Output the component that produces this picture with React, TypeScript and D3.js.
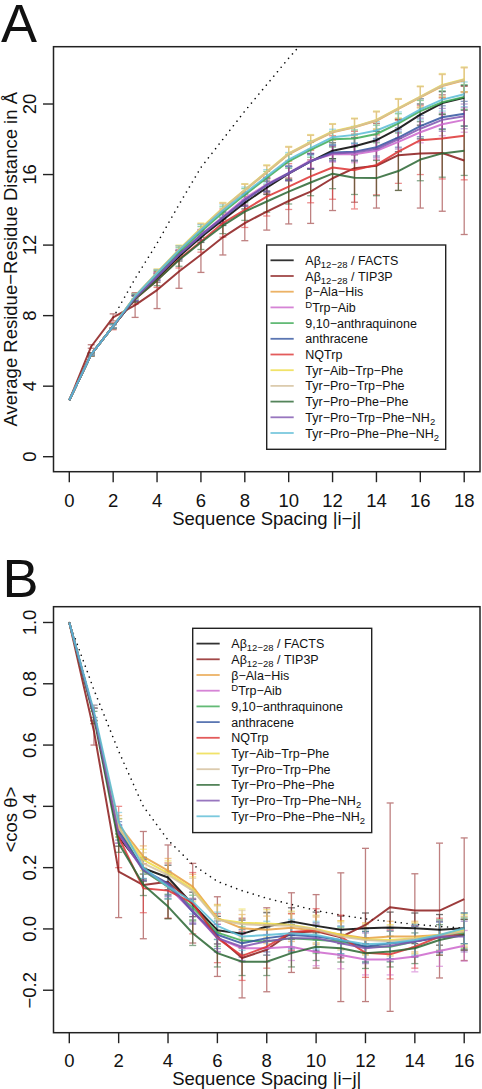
import React from "react";
import * as d3 from "d3";

// ---------- shared series info ----------
const seriesNames = [
  "FACTS", "TIP3P", "bAlaHis", "DTrpAib", "anthraquinone", "anthracene",
  "NQTrp", "TyrAibTrpPhe", "TyrProTrpPhe", "TyrProPhePhe", "TyrProTrpPheNH2", "TyrProPhePheNH2",
];
const seriesColors = [
  "#000000", "#8B1A1A", "#E8A040", "#CC66CC", "#3DAA55", "#3355A0",
  "#DD3333", "#EEDD44", "#D4BF9A", "#2A6632", "#7F55B0", "#5BBCD6",
];

// ---------- Panel A ----------
const xA = [0, 1, 2, 3, 4, 5, 6, 7, 8, 9, 10, 11, 12, 13, 14, 15, 16, 17, 18];
const yTicksA = [0, 4, 8, 12, 16, 20];
const xTicksA = [0, 2, 4, 6, 8, 10, 12, 14, 16, 18];

const a_FACTS = [3.2, 5.8, 7.4, 8.95, 10.1, 11.35, 12.45, 13.43, 14.4, 15.25, 16.05, 16.75, 17.35, 17.6, 17.95, 18.6, 19.4, 20.05, 20.35];
const a_TIP3P = [3.2, 6.25, 7.9, 8.6, 9.45, 10.5, 11.45, 12.44, 13.25, 13.9, 14.5, 15.03, 15.79, 16.36, 16.5, 17.1, 17.2, 17.22, 16.8];
const a_bAlaHis = [3.2, 5.8, 7.4, 9.1, 10.4, 11.7, 12.9, 14.05, 15.1, 16.12, 17.15, 17.8, 18.4, 18.68, 19.05, 19.72, 20.38, 21.02, 21.35];
const a_DTrpAib = [3.2, 5.8, 7.4, 9.0, 10.25, 11.5, 12.6, 13.6, 14.65, 15.45, 16.1, 16.8, 17.15, 17.15, 17.35, 17.85, 18.4, 18.85, 19.1];
const a_anthraquinone = [3.2, 5.8, 7.4, 9.05, 10.35, 11.6, 12.75, 13.85, 14.85, 15.8, 16.75, 17.4, 18.0, 18.05, 18.3, 18.9, 19.6, 20.1, 20.4];
const a_anthracene = [3.2, 5.8, 7.4, 9.0, 10.2, 11.45, 12.55, 13.55, 14.55, 15.4, 16.08, 16.75, 17.25, 17.3, 17.55, 18.1, 18.75, 19.25, 19.45];
const a_NQTrp = [3.2, 5.8, 7.4, 8.95, 10.0, 11.2, 12.2, 13.25, 14.0, 14.75, 15.32, 15.9, 16.4, 16.25, 16.55, 17.3, 17.95, 18.05, 18.2];
const a_TyrAibTrpPhe = [3.2, 5.8, 7.4, 9.1, 10.45, 11.75, 12.95, 14.1, 15.13, 16.17, 17.2, 17.85, 18.44, 18.72, 19.1, 19.76, 20.42, 21.08, 21.4];
const a_TyrProTrpPhe = [3.2, 5.8, 7.4, 9.1, 10.43, 11.72, 12.92, 14.08, 15.12, 16.15, 17.18, 17.82, 18.42, 18.7, 19.08, 19.74, 20.4, 21.05, 21.38];
const a_TyrProPhePhe = [3.2, 5.8, 7.4, 8.95, 10.0, 11.15, 12.15, 13.1, 13.9, 14.47, 15.03, 15.55, 16.05, 15.82, 15.8, 16.2, 16.85, 17.2, 17.35];
const a_TyrProTrpPheNH2 = [3.2, 5.8, 7.4, 9.0, 10.2, 11.45, 12.55, 13.55, 14.55, 15.4, 16.05, 16.75, 17.2, 17.25, 17.45, 18.0, 18.6, 19.1, 19.3];
const a_TyrProPhePheNH2 = [3.2, 5.8, 7.4, 9.1, 10.4, 11.7, 12.86, 13.96, 14.94, 15.9, 16.85, 17.5, 18.12, 18.25, 18.5, 19.0, 19.7, 20.25, 20.55];

const errA_typical = [0, 0.05, 0.1, 0.15, 0.2, 0.25, 0.3, 0.32, 0.35, 0.38, 0.4, 0.42, 0.45, 0.48, 0.5, 0.55, 0.6, 0.65, 0.7];
const errA_TIP3P = [0, 0.1, 0.2, 0.7, 1.05, 0.95, 1.0, 1.0, 1.0, 1.05, 1.3, 1.8, 1.83, 1.93, 2.4, 2.0, 3.1, 3.3, 4.2];
const errA_NQTrp = [0, 0.1, 0.2, 0.3, 0.4, 0.5, 0.6, 0.8, 1.0, 1.1, 1.3, 1.5, 1.8, 2.2, 1.7, 1.8, 1.95, 2.3, 2.5];
const errA_TyrProPhePhe = [0, 0.1, 0.15, 0.2, 0.3, 0.35, 0.4, 0.45, 0.5, 0.6, 0.7, 0.75, 0.85, 0.95, 1.0, 1.1, 1.2, 1.35, 1.4];

const dottedA_x = [2, 3, 4, 5, 6, 7, 8, 9, 10, 11];
const dottedA_y = [7.9, 10.1, 12.1, 14.3, 16.4, 18.0, 19.6, 21.1, 22.6, 24.0];

// ---------- Panel B ----------
const xB = [0, 1, 2, 3, 4, 5, 6, 7, 8, 9, 10, 11, 12, 13, 14, 15, 16];
const yTicksB = [-0.2, 0, 0.2, 0.4, 0.6, 0.8, 1.0];
const xTicksB = [0, 2, 4, 6, 8, 10, 12, 14, 16];

const b_FACTS = [1.0, 0.70, 0.30, 0.198, 0.168, 0.08, -0.004, -0.016, 0.008, 0.024, 0.010, -0.003, 0.002, 0.005, 0.002, -0.003, 0.002];
const b_TIP3P = [1.0, 0.645, 0.187, 0.143, 0.154, 0.084, -0.025, -0.095, -0.068, -0.012, -0.008, -0.027, 0.013, 0.071, 0.060, 0.060, 0.097];
const b_bAlaHis = [1.0, 0.70, 0.34, 0.236, 0.19, 0.138, 0.035, 0.002, -0.003, 0.004, -0.006, -0.018, -0.03, -0.025, -0.025, -0.02, -0.01];
const b_DTrpAib = [1.0, 0.70, 0.31, 0.19, 0.138, 0.056, -0.03, -0.063, -0.063, -0.058, -0.075, -0.085, -0.1, -0.1, -0.09, -0.072, -0.055];
const b_anthraquinone = [1.0, 0.70, 0.33, 0.19, 0.138, 0.07, -0.012, -0.038, -0.041, -0.03, -0.035, -0.041, -0.058, -0.058, -0.041, -0.025, -0.014];
const b_anthracene = [1.0, 0.70, 0.32, 0.193, 0.149, 0.056, -0.019, -0.047, -0.03, -0.02, -0.025, -0.036, -0.058, -0.047, -0.041, -0.028, -0.019];
const b_NQTrp = [1.0, 0.70, 0.30, 0.133, 0.125, 0.084, -0.03, -0.088, -0.058, -0.01, -0.004, -0.025, -0.078, -0.083, -0.058, -0.025, -0.019];
const b_TyrAibTrpPhe = [1.0, 0.70, 0.33, 0.225, 0.182, 0.13, 0.032, 0.02, 0.018, 0.013, 0.0, -0.02, -0.034, -0.036, -0.03, -0.02, -0.003];
const b_TyrProTrpPhe = [1.0, 0.70, 0.33, 0.214, 0.176, 0.125, 0.03, 0.015, 0.012, 0.01, -0.002, -0.025, -0.036, -0.04, -0.032, -0.022, -0.008];
const b_TyrProPhePhe = [1.0, 0.69, 0.28, 0.144, 0.073, -0.014, -0.079, -0.107, -0.107, -0.079, -0.058, -0.063, -0.079, -0.074, -0.063, -0.036, -0.019];
const b_TyrProTrpPheNH2 = [1.0, 0.70, 0.31, 0.193, 0.145, 0.06, -0.03, -0.058, -0.04, -0.03, -0.03, -0.047, -0.063, -0.056, -0.041, -0.025, -0.025];
const b_TyrProPhePheNH2 = [1.0, 0.71, 0.35, 0.20, 0.138, 0.089, 0.01, -0.025, -0.02, -0.014, -0.02, -0.036, -0.05, -0.047, -0.036, -0.02, 0.002];

const errB_typical = [0, 0.02, 0.03, 0.035, 0.04, 0.04, 0.045, 0.045, 0.045, 0.045, 0.045, 0.045, 0.05, 0.05, 0.05, 0.05, 0.05];
const errB_TIP3P = [0, 0.045, 0.15, 0.175, 0.12, 0.13, 0.13, 0.13, 0.137, 0.13, 0.12, 0.21, 0.25, 0.34, 0.12, 0.22, 0.2];
const errB_NQTrp = [0, 0.03, 0.1, 0.08, 0.09, 0.1, 0.08, 0.08, 0.07, 0.06, 0.07, 0.07, 0.08, 0.08, 0.07, 0.06, 0.05];

const dottedB_x = [0, 1, 2, 3, 4, 5, 6, 7, 8, 9, 10, 11, 12, 13, 14, 15, 16];
const dottedB_y = [1.0, 0.78, 0.58, 0.40, 0.29, 0.21, 0.155, 0.125, 0.10, 0.08, 0.06, 0.045, 0.033, 0.024, 0.015, 0.008, 0.003];

const seriesA = [a_FACTS, a_TIP3P, a_bAlaHis, a_DTrpAib, a_anthraquinone, a_anthracene, a_NQTrp, a_TyrAibTrpPhe, a_TyrProTrpPhe, a_TyrProPhePhe, a_TyrProTrpPheNH2, a_TyrProPhePheNH2];
const errsA = [errA_typical, errA_TIP3P, errA_typical, errA_typical, errA_typical, errA_typical, errA_NQTrp, errA_typical, errA_typical, errA_TyrProPhePhe, errA_typical, errA_typical];
const seriesB = [b_FACTS, b_TIP3P, b_bAlaHis, b_DTrpAib, b_anthraquinone, b_anthracene, b_NQTrp, b_TyrAibTrpPhe, b_TyrProTrpPhe, b_TyrProPhePhe, b_TyrProTrpPheNH2, b_TyrProPhePheNH2];
const errsB = [errB_typical, errB_TIP3P, errB_typical, errB_typical, errB_typical, errB_typical, errB_NQTrp, errB_typical, errB_typical, errB_typical, errB_typical, errB_typical];

const FONT = "'Liberation Sans', Arial, Helvetica, sans-serif";
const AX = "#222";

function LegendLabel({ i }: { i: number }) {
  const sub = { fontSize: 9.5 } as any;
  switch (i) {
    case 0:
      return (<>Aβ<tspan dy={3} style={sub}>12−28</tspan><tspan dy={-3}> / FACTS</tspan></>);
    case 1:
      return (<>Aβ<tspan dy={3} style={sub}>12−28</tspan><tspan dy={-3}> / TIP3P</tspan></>);
    case 2: return <>β−Ala−His</>;
    case 3:
      return (<><tspan dy={-4} style={sub}>D</tspan><tspan dy={4}>Trp−Aib</tspan></>);
    case 4: return <>9,10−anthraquinone</>;
    case 5: return <>anthracene</>;
    case 6: return <>NQTrp</>;
    case 7: return <>Tyr−Aib−Trp−Phe</>;
    case 8: return <>Tyr−Pro−Trp−Phe</>;
    case 9: return <>Tyr−Pro−Phe−Phe</>;
    case 10:
      return (<>Tyr−Pro−Trp−Phe−NH<tspan dy={3} style={sub}>2</tspan></>);
    default:
      return (<>Tyr−Pro−Phe−Phe−NH<tspan dy={3} style={sub}>2</tspan></>);
  }
}

function Legend({ x0, y0 }: { x0: number; y0: number }) {
  const w = 179, h = 204.3, step = 15.7;
  return (
    <g>
      <rect x={x0} y={y0} width={w} height={h} fill="white" stroke={AX} strokeWidth={1.4} />
      {seriesNames.map((n, i) => {
        const yy = y0 + 15.3 + i * step;
        return (
          <g key={n}>
            <line x1={x0 + 3.8} x2={x0 + 27} y1={yy} y2={yy} stroke={seriesColors[i]} strokeWidth={1.8} opacity={0.8} />
            <text x={x0 + 38.6} y={yy + 4.5} fontSize={12.5} fill="#111" fontFamily={FONT}>
              <LegendLabel i={i} />
            </text>
          </g>
        );
      })}
    </g>
  );
}

function Panel(props: {
  left: number; right: number; top: number; bottom: number;
  xDom: [number, number]; yDom: [number, number];
  xs: number[]; series: number[][]; errs: number[][];
  xTicks: number[]; yTicks: number[]; yFmt: (v: number) => string;
  dotX: number[]; dotY: number[];
  yLabel: string; letter: string; letterY: number; letterX: number;
  tickLabelY: number; titleY: number; legendX: number; legendY: number; clipId: string;
}) {
  const p = props;
  const x = d3.scaleLinear().domain(p.xDom).range([p.left, p.right]);
  const y = d3.scaleLinear().domain(p.yDom).range([p.bottom, p.top]);
  const line = d3.line<number>().x((_, i) => x(p.xs[i])).y((d) => y(d));
  const dline = d3.line<number>().x((_, i) => x(p.dotX[i])).y((d) => y(d));
  const cy = (p.top + p.bottom) / 2;
  const cx = (p.left + p.right) / 2;
  return (
    <g fontFamily={FONT}>
      <defs>
        <clipPath id={p.clipId}>
          <rect x={p.left} y={p.top} width={p.right - p.left} height={p.bottom - p.top} />
        </clipPath>
      </defs>
      <text x={p.letterX} y={p.letterY} fontSize={54} fill="#111">{p.letter}</text>
      <g clipPath={`url(#${p.clipId})`}>
        <path d={dline(p.dotY) || ""} fill="none" stroke="#111" strokeWidth={1.6} strokeDasharray="0.01 5.8" strokeLinecap="round" />
        {p.series.map((s, si) => (
          <g key={"e" + si} stroke={seriesColors[si]} strokeWidth={1.3} opacity={0.55}>
            {s.map((v, i) => {
              const e = p.errs[si][i];
              if (!e) return null;
              const px = x(p.xs[i]);
              return (
                <g key={i}>
                  <line x1={px} x2={px} y1={y(v - e)} y2={y(v + e)} />
                  <line x1={px - 3.5} x2={px + 3.5} y1={y(v - e)} y2={y(v - e)} />
                  <line x1={px - 3.5} x2={px + 3.5} y1={y(v + e)} y2={y(v + e)} />
                </g>
              );
            })}
          </g>
        ))}
        {p.series.map((s, si) => (
          <path key={"l" + si} d={line(s) || ""} fill="none" stroke={seriesColors[si]} strokeWidth={2} opacity={0.85} strokeLinejoin="round" />
        ))}
      </g>
      <rect x={p.left} y={p.top} width={p.right - p.left} height={p.bottom - p.top} fill="none" stroke={AX} strokeWidth={1.5} />
      {p.xTicks.map((t) => (
        <g key={"xt" + t}>
          <line x1={x(t)} x2={x(t)} y1={p.bottom} y2={p.bottom + 10.5} stroke={AX} strokeWidth={1.4} />
          <text x={x(t)} y={p.tickLabelY} textAnchor="middle" fontSize={18.5} fill="#111">{t}</text>
        </g>
      ))}
      {p.yTicks.map((t) => (
        <g key={"yt" + t}>
          <line x1={p.left} x2={p.left - 10.5} y1={y(t)} y2={y(t)} stroke={AX} strokeWidth={1.4} />
          <text transform={`translate(36,${y(t)}) rotate(-90)`} textAnchor="middle" fontSize={18.5} fill="#111">{p.yFmt(t)}</text>
        </g>
      ))}
      <text x={cx} y={p.titleY} textAnchor="middle" fontSize={18.5} fill="#111">Sequence Spacing |i−j|</text>
      <text transform={`translate(17,${cy}) rotate(-90)`} textAnchor="middle" fontSize={18.5} fill="#111">{p.yLabel}</text>
      <Legend x0={p.legendX} y0={p.legendY} />
    </g>
  );
}

export default function App() {
  return (
    <svg width={482} height={1089} style={{ position: "absolute", left: 0, top: 0, background: "white" }}>
      <rect x={0} y={0} width={482} height={1089} fill="white" />
      <Panel
        left={53.5} right={480} top={46.7} bottom={471.7}
        xDom={[-0.72, 18.72]} yDom={[-0.85, 23.25]}
        xs={xA} series={seriesA} errs={errsA}
        xTicks={xTicksA} yTicks={yTicksA} yFmt={(v) => String(v)}
        dotX={dottedA_x} dotY={dottedA_y}
        yLabel="Average Residue−Residue Distance in Å" letter="A" letterX={1} letterY={41.7}
        tickLabelY={507} titleY={525} legendX={266.7} legendY={245} clipId="clipA"
      />
      <Panel
        left={53.5} right={480} top={606.7} bottom={1032.7}
        xDom={[-0.64, 16.64]} yDom={[-0.3386, 1.0515]}
        xs={xB} series={seriesB} errs={errsB}
        xTicks={xTicksB} yTicks={yTicksB} yFmt={(v) => (v < 0 ? "−" + Math.abs(v).toFixed(1) : v.toFixed(1))}
        dotX={dottedB_x} dotY={dottedB_y}
        yLabel="<cos θ>" letter="B" letterX={2.5} letterY={596.7}
        tickLabelY={1067} titleY={1085} legendX={192.7} legendY={628.3} clipId="clipB"
      />
    </svg>
  );
}
